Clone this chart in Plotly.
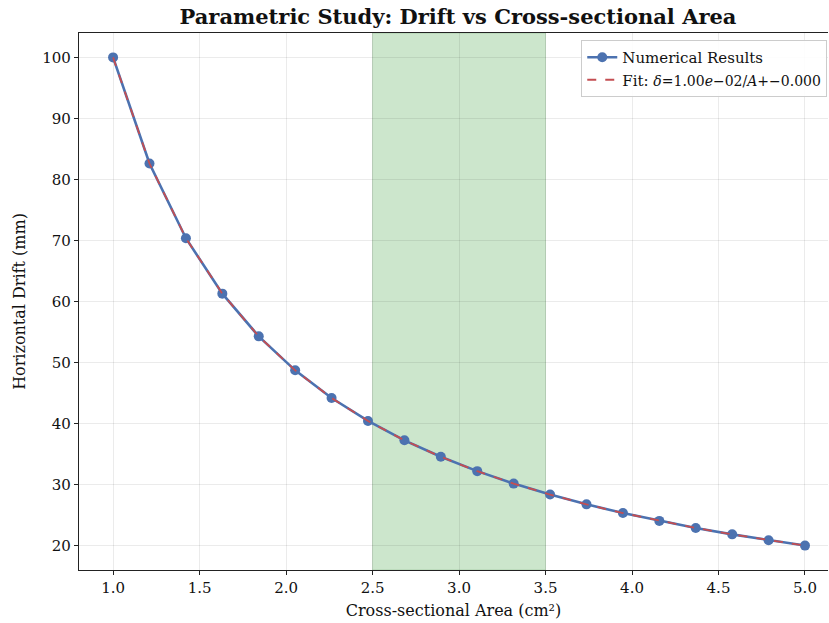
import plotly.graph_objects as go

area = [1.0, 1.2105, 1.4211, 1.6316, 1.8421, 2.0526, 2.2632, 2.4737, 2.6842, 2.8947,
        3.1053, 3.3158, 3.5263, 3.7368, 3.9474, 4.1579, 4.3684, 4.5789, 4.7895, 5.0]
drift = [100.0, 82.61, 70.37, 61.29, 54.29, 48.72, 44.19, 40.43, 37.25, 34.55,
         32.20, 30.16, 28.36, 26.76, 25.33, 24.05, 22.89, 21.84, 20.88, 20.0]
fit_drift = [100.0, 82.61, 70.37, 61.29, 54.29, 48.72, 44.19, 40.43, 37.25, 34.55,
             32.20, 30.16, 28.36, 26.76, 25.33, 24.05, 22.89, 21.84, 20.88, 20.0]
span = [2.5, 3.5]
xticks = [1.0, 1.5, 2.0, 2.5, 3.0, 3.5, 4.0, 4.5, 5.0]
yticks = [20, 30, 40, 50, 60, 70, 80, 90, 100]

FONT = "DejaVu Serif"

fig = go.Figure()
fig.add_vrect(x0=span[0], x1=span[1], fillcolor="rgba(0,128,0,0.2)",
              line=dict(color="rgba(0,100,0,0.15)", width=1), layer="below")
fig.add_trace(go.Scatter(x=area, y=drift, mode="lines+markers", name="Numerical Results",
                         line=dict(color="#4c72b0", width=2.6),
                         marker=dict(color="#4c72b0", size=10)))
fig.add_trace(go.Scatter(x=area, y=fit_drift, mode="lines",
                         name="Fit: <span style='font-size:14px'><i>δ</i>=1.00<i>e</i>−02/<i>A</i>+−0.000</span>",
                         line=dict(color="#c44e52", width=1.8, dash="dash")))

fig.update_layout(
    width=829, height=623,
    margin=dict(l=79, r=1, t=33, b=53),
    plot_bgcolor="white", paper_bgcolor="white",
    font=dict(family=FONT, size=15, color="#111"),
    title=dict(text="<b>Parametric Study: Drift vs Cross-sectional Area</b>",
               x=458/829, xanchor="center", y=1-17/623, yanchor="middle",
               font=dict(family=FONT, size=21, color="#111")),
    showlegend=True,
    legend=dict(x=0.999, y=0.987, xanchor="right", yanchor="top",
                bgcolor="rgba(255,255,255,0.9)", bordercolor="#cccccc", borderwidth=1,
                font=dict(family=FONT, size=15), tracegroupgap=0),
    xaxis=dict(range=[0.803, 5.133], tickvals=xticks,
               ticktext=[f"{v:.1f}" for v in xticks],
               showgrid=True, gridcolor="rgba(0,0,0,0.08)", gridwidth=1,
               showline=True, linecolor="#222", linewidth=1.2, mirror=True,
               ticks="outside", ticklen=4, tickcolor="#222", zeroline=False,
               tickfont=dict(family=FONT, size=15),
               title=dict(text="Cross-sectional Area (cm²)", font=dict(family=FONT, size=16),
                          standoff=8)),
    yaxis=dict(range=[16, 104], tickvals=yticks,
               showgrid=True, gridcolor="rgba(0,0,0,0.08)", gridwidth=1,
               showline=True, linecolor="#222", linewidth=1.2, mirror=False,
               ticks="outside", ticklen=4, tickcolor="#222", zeroline=False,
               tickfont=dict(family=FONT, size=15),
               title=dict(text="Horizontal Drift (mm)", font=dict(family=FONT, size=16),
                          standoff=12)),
)

fig.write_html("out.html", config={"displayModeBar": False},
               post_script="document.body.style.margin='0';document.body.style.padding='0';")
